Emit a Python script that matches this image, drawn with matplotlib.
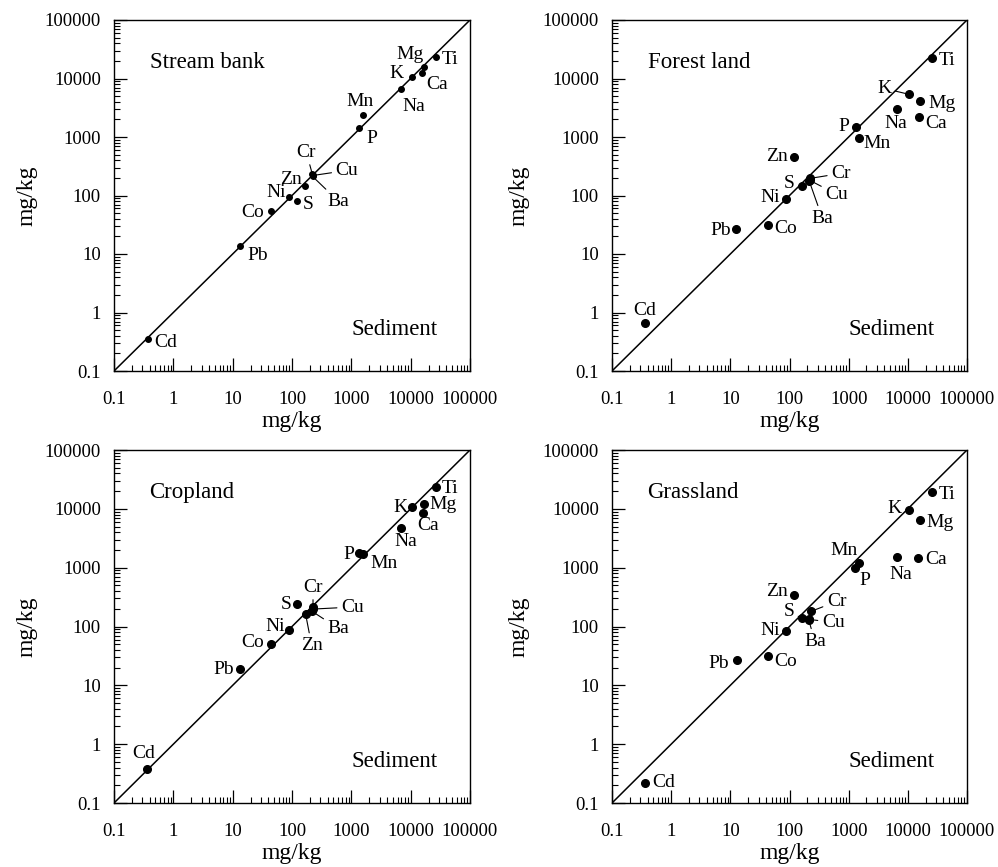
import matplotlib
matplotlib.use("Agg")
import matplotlib.pyplot as plt
from matplotlib.ticker import LogLocator, NullFormatter, FixedLocator, FixedFormatter

plt.rcParams['font.family'] = ['Liberation Serif', 'DejaVu Serif']

elements = ["Cd", "Pb", "Co", "Ni", "S", "Zn", "Cr", "Cu", "Ba", "P", "Mn", "Na", "K", "Ca", "Mg", "Ti"]

panels = ["Stream bank", "Forest land", "Cropland", "Grassland"]

# sediment concentration (x) and land-use concentration (y), mg/kg
x_stream = [0.37, 13.3, 44, 90, 120, 168, 220, 226, 222, 1346, 1549, 6780, 10500, 15700, 16600, 26400]
y_stream = [0.35, 13.7, 55, 93, 82, 147, 232, 220, 212, 1425, 2344, 6530, 10700, 12200, 15900, 23600]

x_forest = [0.356, 12.6, 42.8, 88, 165, 117, 222, 219, 216, 1312, 1496, 6650, 10470, 15250, 16100, 25300]
y_forest = [0.67, 27, 31, 86, 145, 461, 196, 182, 176, 1503, 948, 2970, 5360, 2170, 4180, 22700]

x_crop = [0.363, 13.2, 44, 90, 122, 170, 226, 230, 220, 1365, 1596, 6950, 10660, 16000, 16600, 26900]
y_crop = [0.38, 19.3, 51, 87, 240, 160, 214, 198, 180, 1795, 1700, 4660, 10700, 8600, 12080, 23800]

x_grass = [0.366, 12.8, 43, 88, 161, 117, 228, 216, 212, 1280, 1496, 6650, 10470, 15000, 15850, 25300]
y_grass = [0.22, 27, 31.7, 85, 140, 349, 180, 132, 128, 977, 1189, 1541, 9550, 1483, 6460, 19500]

tick_values = [0.1, 1, 10, 100, 1000, 10000, 100000]
tick_labels = ["0.1", "1", "10", "100", "1000", "10000", "100000"]

# label offsets in pixels (dx, dy), and whether a leader line is drawn
offsets = [
    {"Cd": (18, -3, 0), "Pb": (18, -9, 0), "Co": (-18, -2, 0), "Ni": (-13, 5, 0), "S": (11, -4, 0),
     "Zn": (-14, 6, 0), "Cr": (-6, 22, 1), "Cu": (34, 5, 1), "Ba": (26, -25, 1), "P": (13, -10, 0),
     "Mn": (-3, 14, 0), "Na": (13, -17, 0), "K": (-15, 3, 0), "Ca": (15, -11, 0), "Mg": (-14, 12, 0),
     "Ti": (14, -3, 0)},
    {"Cd": (0, 12, 0), "Pb": (-16, -2, 0), "Co": (18, -3, 0), "Ni": (-16, 2, 0), "S": (-13, 3, 0),
     "Zn": (-17, 0, 0), "Cr": (31, 5, 1), "Cu": (27, -14, 1), "Ba": (13, -37, 1), "P": (-12, 0, 0),
     "Mn": (18, -5, 0), "Na": (-2, -14, 0), "K": (-25, 6, 1), "Ca": (17, -6, 0), "Mg": (22, -3, 0),
     "Ti": (15, -3, 0)},
    {"Cd": (-4, 15, 0), "Pb": (-16, -1, 0), "Co": (-18, 1, 0), "Ni": (-14, 4, 0), "S": (-11, 0, 0),
     "Zn": (6, -31, 1), "Cr": (0, 20, 1), "Cu": (39, 2, 1), "Ba": (26, -17, 1), "P": (-11, -2, 0),
     "Mn": (21, -9, 0), "Na": (4, -13, 0), "K": (-12, 0, 0), "Ca": (5, -13, 0), "Mg": (19, 0, 0),
     "Ti": (14, -2, 0)},
    {"Cd": (18, 0, 0), "Pb": (-18, -4, 0), "Co": (18, -6, 0), "Ni": (-16, 0, 0), "S": (-13, 6, 1),
     "Zn": (-17, 3, 0), "Cr": (26, 10, 1), "Cu": (24, -3, 1), "Ba": (6, -21, 1), "P": (10, -12, 0),
     "Mn": (-15, 13, 0), "Na": (3, -18, 0), "K": (-15, 2, 0), "Ca": (18, -2, 0), "Mg": (20, -3, 0),
     "Ti": (15, -3, 0)},
]

data = [(x_stream, y_stream), (x_forest, y_forest), (x_crop, y_crop), (x_grass, y_grass)]

W, H = 998, 867
fig = plt.figure(figsize=(W / 100, H / 100), dpi=100)
boxes = [(114, 20, 356, 351), (612, 20, 355, 351), (114, 450, 356, 353), (612, 450, 355, 353)]
ylab_x = [-0.244, -0.262, -0.244, -0.262]
msizes = [4.0, 5.5, 5.5, 5.5]

for i, (name, (xs, ys), box) in enumerate(zip(panels, data, boxes)):
    l, t, w, h = box
    ax = fig.add_axes([l / W, 1 - (t + h) / H, w / W, h / H])
    ax.set_xscale("log")
    ax.set_yscale("log")
    ax.set_xlim(0.1, 100000)
    ax.set_ylim(0.1, 100000)
    ax.plot([0.1, 100000], [0.1, 100000], color="black", lw=1.1, zorder=1)
    ax.plot(xs, ys, "o", color="black", markersize=msizes[i], zorder=3, clip_on=False)
    for el, xv, yv in zip(elements, xs, ys):
        dx, dy, lead = offsets[i][el]
        if lead:
            ax.annotate(el, (xv, yv), xytext=(dx, dy), textcoords="offset pixels",
                        ha="center", va="center", fontsize=14,
                        arrowprops=dict(arrowstyle="-", lw=0.8, color="black",
                                        shrinkA=1, shrinkB=0))
        else:
            ax.annotate(el, (xv, yv), xytext=(dx, dy), textcoords="offset pixels",
                        ha="center", va="center", fontsize=14)
    ax.text(0.10, 0.88, name, transform=ax.transAxes, fontsize=16.5, ha="left", va="center")
    ax.text(0.91, 0.117, "Sediment", transform=ax.transAxes, fontsize=16.5, ha="right", va="center")

    for axis in (ax.xaxis, ax.yaxis):
        axis.set_major_locator(FixedLocator(tick_values))
        axis.set_major_formatter(FixedFormatter(tick_labels))
        axis.set_minor_locator(LogLocator(base=10, subs=range(2, 10), numticks=20))
        axis.set_minor_formatter(NullFormatter())
    ax.tick_params(which="major", direction="in", length=9.5, width=0.9, labelsize=13.5,
                   top=False, right=False)
    ax.tick_params(axis="x", which="major", pad=14.5)
    ax.tick_params(axis="y", which="major", pad=9.5)
    ax.tick_params(which="minor", direction="in", length=4.5, width=0.8, top=False, right=False)
    for sp in ax.spines.values():
        sp.set_linewidth(1.0)
    ax.set_xlabel("mg/kg", fontsize=17)
    ax.set_ylabel("mg/kg", fontsize=17)
    ax.xaxis.set_label_coords(0.5, -50 / h)
    ax.xaxis.label.set_va("center")
    ax.yaxis.set_label_coords(ylab_x[i], 0.5)
    ax.yaxis.label.set_va("center")
    ax.yaxis.label.set_ha("center")

fig.savefig("out.png", dpi=100)
